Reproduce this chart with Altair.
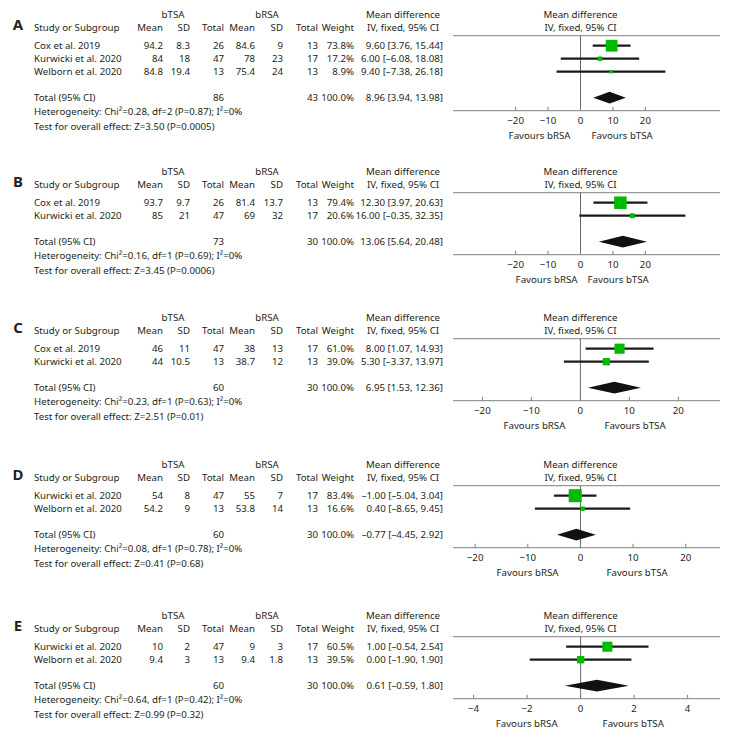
import altair as alt
import pandas as pd

# ---------------- data ----------------
A_study = ["Cox et al. 2019", "Kurwicki et al. 2020", "Welborn et al. 2020"]
A_m1 = [94.2, 84, 84.8]
A_sd1 = [8.3, 18, 19.4]
A_n1 = [26, 47, 13]
A_m2 = [84.6, 78, 75.4]
A_sd2 = [9, 23, 24]
A_n2 = [13, 17, 13]
A_weight = [73.8, 17.2, 8.9]
A_md = [9.60, 6.00, 9.40]
A_lo = [3.76, -6.08, -7.38]
A_hi = [15.44, 18.08, 26.18]
A_total = [86, 43, 8.96, 3.94, 13.98]  # n bTSA, n bRSA, MD, lower, upper
A_het = "Heterogeneity: Chi²=0.28, df=2 (P=0.87); I²=0%"
A_test = "Test for overall effect: Z=3.50 (P=0.0005)"
A_ticks = [-20, -10, 0, 10, 20]

B_study = ["Cox et al. 2019", "Kurwicki et al. 2020"]
B_m1 = [93.7, 85]
B_sd1 = [9.7, 21]
B_n1 = [26, 47]
B_m2 = [81.4, 69]
B_sd2 = [13.7, 32]
B_n2 = [13, 17]
B_weight = [79.4, 20.6]
B_md = [12.30, 16.00]
B_lo = [3.97, -0.35]
B_hi = [20.63, 32.35]
B_total = [73, 30, 13.06, 5.64, 20.48]
B_het = "Heterogeneity: Chi²=0.16, df=1 (P=0.69); I²=0%"
B_test = "Test for overall effect: Z=3.45 (P=0.0006)"
B_ticks = [-20, -10, 0, 10, 20]

C_study = ["Cox et al. 2019", "Kurwicki et al. 2020"]
C_m1 = [46, 44]
C_sd1 = [11, 10.5]
C_n1 = [47, 13]
C_m2 = [38, 38.7]
C_sd2 = [13, 12]
C_n2 = [17, 13]
C_weight = [61.0, 39.0]
C_md = [8.00, 5.30]
C_lo = [1.07, -3.37]
C_hi = [14.93, 13.97]
C_total = [60, 30, 6.95, 1.53, 12.36]
C_het = "Heterogeneity: Chi²=0.23, df=1 (P=0.63); I²=0%"
C_test = "Test for overall effect: Z=2.51 (P=0.01)"
C_ticks = [-20, -10, 0, 10, 20]

D_study = ["Kurwicki et al. 2020", "Welborn et al. 2020"]
D_m1 = [54, 54.2]
D_sd1 = [8, 9]
D_n1 = [47, 13]
D_m2 = [55, 53.8]
D_sd2 = [7, 14]
D_n2 = [17, 13]
D_weight = [83.4, 16.6]
D_md = [-1.00, 0.40]
D_lo = [-5.04, -8.65]
D_hi = [3.04, 9.45]
D_total = [60, 30, -0.77, -4.45, 2.92]
D_het = "Heterogeneity: Chi²=0.08, df=1 (P=0.78); I²=0%"
D_test = "Test for overall effect: Z=0.41 (P=0.68)"
D_ticks = [-20, -10, 0, 10, 20]

E_study = ["Kurwicki et al. 2020", "Welborn et al. 2020"]
E_m1 = [10, 9.4]
E_sd1 = [2, 3]
E_n1 = [47, 13]
E_m2 = [9, 9.4]
E_sd2 = [3, 1.8]
E_n2 = [17, 13]
E_weight = [60.5, 39.5]
E_md = [1.00, 0.00]
E_lo = [-0.54, -1.90]
E_hi = [2.54, 1.90]
E_total = [60, 30, 0.61, -0.59, 1.80]
E_het = "Heterogeneity: Chi²=0.64, df=1 (P=0.42); I²=0%"
E_test = "Test for overall effect: Z=0.99 (P=0.32)"
E_ticks = [-4, -2, 0, 2, 4]

PANELS = [
    ("A", A_study, A_m1, A_sd1, A_n1, A_m2, A_sd2, A_n2, A_weight, A_md, A_lo, A_hi, A_total, A_het, A_test, A_ticks),
    ("B", B_study, B_m1, B_sd1, B_n1, B_m2, B_sd2, B_n2, B_weight, B_md, B_lo, B_hi, B_total, B_het, B_test, B_ticks),
    ("C", C_study, C_m1, C_sd1, C_n1, C_m2, C_sd2, C_n2, C_weight, C_md, C_lo, C_hi, C_total, C_het, C_test, C_ticks),
    ("D", D_study, D_m1, D_sd1, D_n1, D_m2, D_sd2, D_n2, D_weight, D_md, D_lo, D_hi, D_total, D_het, D_test, D_ticks),
    ("E", E_study, E_m1, E_sd1, E_n1, E_m2, E_sd2, E_n2, E_weight, E_md, E_lo, E_hi, E_total, E_het, E_test, E_ticks),
]

# ---------------- layout / style ----------------
FONT = "Noto Sans"
FS = 9.7
TEXT_COLOR = "#231f20"
GRAY = "#808080"
GREEN = "#00bb00"
ROW_PX = 13
W_TABLE = 445
W_FOREST = 267
Y_TOP = -2.9

COLS = {"letter": 10, "study": 26, "m1": 155, "sd1": 182, "n1": 216,
        "m2": 247, "sd2": 275, "n2": 310, "w": 346, "ci": 435,
        "g1": 165, "g2": 259, "mdh": 395}
G_ROW, H_ROW, LINE_ROW, LETTER_ROW = -2.35, -1.38, -0.77, -1.6

LAYOUT = {
    "A": dict(height=157, xdom=[-39.3, 43.0], fav_dx=(-10, 11)),
    "B": dict(height=146, xdom=[-39.3, 43.0], fav_dx=(-3, 7)),
    "C": dict(height=147, xdom=[-26.0, 28.5], fav_dx=(-15, 24)),
    "D": dict(height=151, xdom=[-24.2, 26.5], fav_dx=(-22, 26)),
    "E": dict(height=122, xdom=[-4.77, 5.21], fav_dx=(-23, 22)),
}


def fnum(v):
    return str(int(v)) if float(v).is_integer() else f"{v}"


def fci(md, lo, hi):
    return f"{md:.2f} [{lo:.2f}, {hi:.2f}]".replace("-", "–")


def tstyle(align):
    return dict(font=FONT, fontSize=FS, color=TEXT_COLOR, align=align, baseline="middle")


def make_panel(p):
    (name, study, m1, sd1, n1, m2, sd2, n2, weight, md, lo, hi, total, het, test, ticks) = p
    lay = LAYOUT[name]
    n = len(study)
    tr = n + 1
    H = lay["height"]
    ysc = alt.Scale(domain=[Y_TOP, Y_TOP + H / ROW_PX], reverse=True, nice=False, zero=False)

    rows = []

    def add(kind, col, y, text):
        rows.append({"kind": kind, "x": COLS[col], "y": y, "text": text})

    add("letter", "letter", LETTER_ROW, name)
    add("center", "g1", G_ROW, "bTSA")
    add("center", "g2", G_ROW, "bRSA")
    add("center", "mdh", G_ROW, "Mean difference")
    add("center", "mdh", H_ROW, "IV, fixed, 95% CI")
    add("left", "study", H_ROW, "Study or Subgroup")
    for col, lab in [("m1", "Mean"), ("sd1", "SD"), ("n1", "Total"), ("m2", "Mean"),
                     ("sd2", "SD"), ("n2", "Total"), ("w", "Weight")]:
        add("right", col, H_ROW, lab)
    for i in range(n):
        add("left", "study", i, study[i])
        add("right", "m1", i, fnum(m1[i]))
        add("right", "sd1", i, fnum(sd1[i]))
        add("right", "n1", i, fnum(n1[i]))
        add("right", "m2", i, fnum(m2[i]))
        add("right", "sd2", i, fnum(sd2[i]))
        add("right", "n2", i, fnum(n2[i]))
        add("right", "w", i, f"{weight[i]:.1f}%")
        add("right", "ci", i, fci(md[i], lo[i], hi[i]))
    add("left", "study", tr, "Total (95% CI)")
    add("right", "n1", tr, fnum(total[0]))
    add("right", "n2", tr, fnum(total[1]))
    add("right", "w", tr, "100.0%")
    add("right", "ci", tr, fci(total[2], total[3], total[4]))
    add("left", "study", tr + 1.08, het)
    add("left", "study", tr + 2.23, test)

    tdf = pd.DataFrame(rows)
    txsc = alt.Scale(domain=[0, W_TABLE], nice=False, zero=False)
    tbase = alt.Chart(tdf).encode(
        x=alt.X("x:Q", scale=txsc, axis=None),
        y=alt.Y("y:Q", scale=ysc, axis=None),
        text="text:N",
    )
    t_left = tbase.transform_filter("datum.kind == 'left'").mark_text(**tstyle("left"))
    t_right = tbase.transform_filter("datum.kind == 'right'").mark_text(**tstyle("right"))
    t_center = tbase.transform_filter("datum.kind == 'center'").mark_text(**tstyle("center"))
    t_letter = tbase.transform_filter("datum.kind == 'letter'").mark_text(
        font=FONT, fontSize=15, fontWeight="bold", color=TEXT_COLOR, align="center", baseline="middle")
    table = alt.layer(t_left, t_right, t_center, t_letter).properties(width=W_TABLE, height=H)

    # ---- forest ----
    fx = alt.Scale(domain=lay["xdom"], nice=False, zero=False)

    def X(f):
        return alt.X(f"{f}:Q", scale=fx, axis=None)

    def Y(f):
        return alt.Y(f"{f}:Q", scale=ysc, axis=None)

    axis_row = tr + 1.0
    hdr_line = alt.Chart(pd.DataFrame({"y": [LINE_ROW]})).mark_rule(color=GRAY, strokeWidth=1).encode(
        y=Y("y"), x=alt.value(0), x2=alt.value(W_FOREST))
    axis_line = alt.Chart(pd.DataFrame({"y": [axis_row]})).mark_rule(color=GRAY, strokeWidth=1).encode(
        y=Y("y"), x=alt.value(0), x2=alt.value(W_FOREST))
    zero_line = alt.Chart(pd.DataFrame({"x": [0], "y": [LINE_ROW], "y2": [axis_row]})).mark_rule(
        color="#666666", strokeWidth=1).encode(x=X("x"), y=Y("y"), y2="y2:Q")
    tdfk = pd.DataFrame({"t": ticks})
    tick_marks = alt.Chart(tdfk).transform_calculate(
        y=f"{axis_row}", y2=f"{axis_row - 0.3}").mark_rule(color=GRAY, strokeWidth=1).encode(
        x=X("t"), y=Y("y"), y2="y2:Q")
    tick_labels = alt.Chart(tdfk).transform_calculate(y=f"{tr + 1.8}").mark_text(
        **tstyle("center")).encode(x=X("t"), y=Y("y"), text=alt.Text("t:Q", format="d"))

    sdf = pd.DataFrame({"md": md, "lo": lo, "hi": hi, "weight": weight, "row": list(range(n))})
    ci = alt.Chart(sdf).mark_rule(color="#1a1a1a", strokeWidth=2.2).encode(
        x=X("lo"), x2="hi:Q", y=Y("row"))
    sq = alt.Chart(sdf).transform_calculate(sz="pow(2.2 + 0.13*datum.weight, 2)").mark_square(
        color=GREEN, opacity=1).encode(x=X("md"), y=Y("row"), size=alt.Size("sz:Q", scale=None))

    ddf = pd.DataFrame({"x": [total[3], total[2], total[4]], "h": [0, 1, 0]})
    diamond = alt.Chart(ddf).transform_calculate(
        yt=f"{tr} - 0.45*datum.h", yb=f"{tr} + 0.45*datum.h").mark_area(
        color="#111111", orient="vertical", opacity=1).encode(x=X("x"), y=Y("yt"), y2="yb:Q")

    hdf = pd.DataFrame({"x": [0, 0], "y": [G_ROW, H_ROW], "text": ["Mean difference", "IV, fixed, 95% CI"]})
    hdr_text = alt.Chart(hdf).mark_text(**tstyle("center")).encode(x=X("x"), y=Y("y"), text="text:N")

    fdf = pd.DataFrame({"x": [0], "y": [tr + 2.92]})
    fav_l = alt.Chart(fdf).mark_text(dx=lay["fav_dx"][0], **tstyle("right")).encode(
        x=X("x"), y=Y("y"), text=alt.value("Favours bRSA"))
    fav_r = alt.Chart(fdf).mark_text(dx=lay["fav_dx"][1], **tstyle("left")).encode(
        x=X("x"), y=Y("y"), text=alt.value("Favours bTSA"))

    forest = alt.layer(hdr_line, axis_line, zero_line, tick_marks, tick_labels, ci, sq, diamond,
                       hdr_text, fav_l, fav_r).properties(width=W_FOREST, height=H)

    return alt.hconcat(table, forest, spacing=0, bounds="flush")


chart = alt.vconcat(*[make_panel(p) for p in PANELS], spacing=0).properties(
    padding=0).configure_view(stroke=None)

chart.save("out.html", embed_options={"renderer": "svg", "actions": False})
